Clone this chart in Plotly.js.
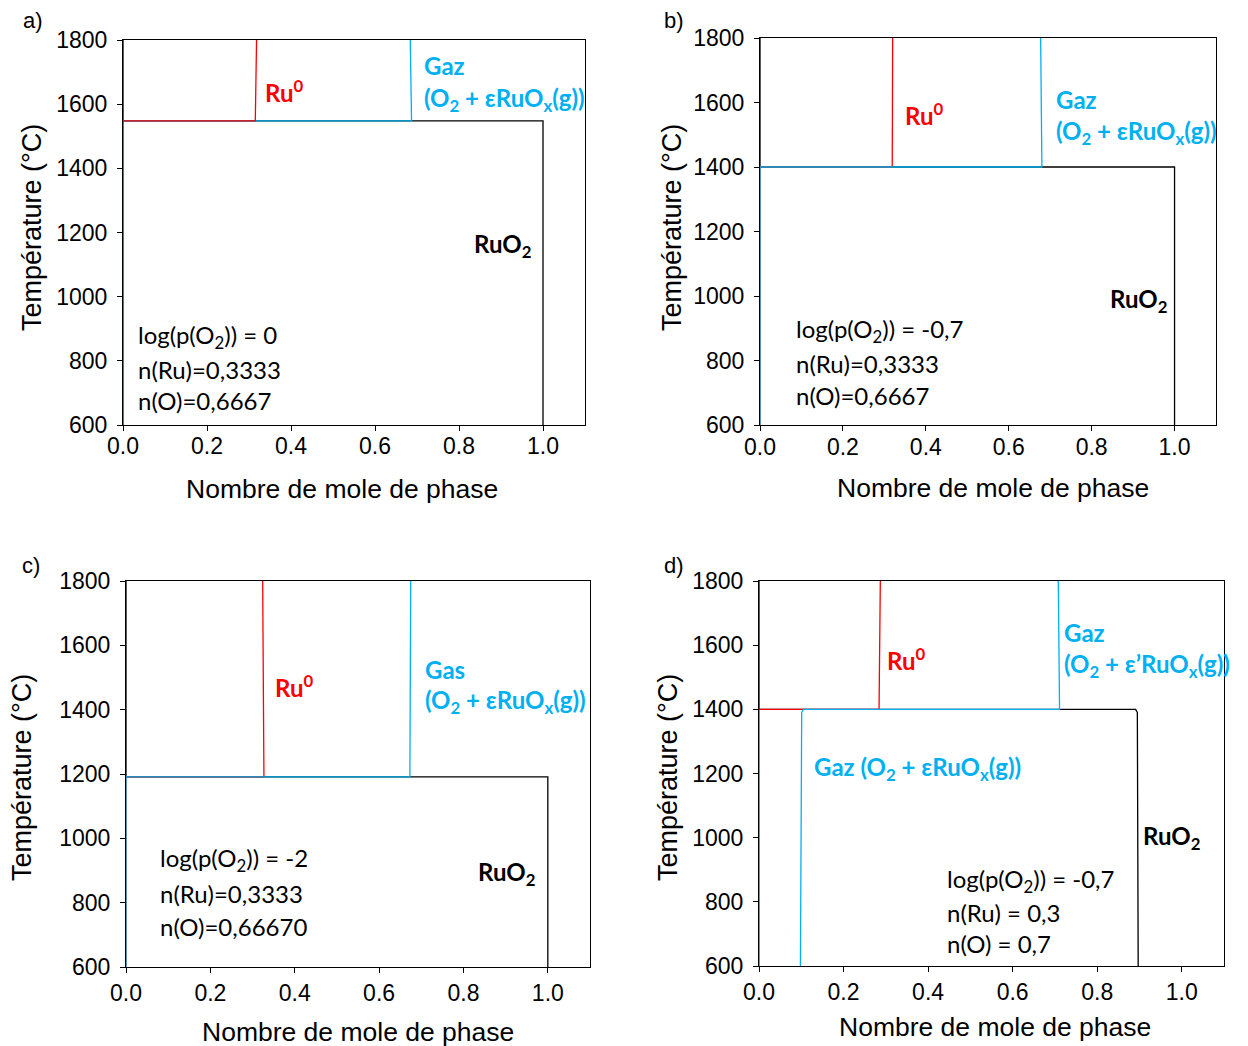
<!DOCTYPE html>
<html>
<head>
<meta charset="utf-8">
<script src="https://cdn.plot.ly/plotly-3.0.1.min.js"></script>
<style>html,body{margin:0;padding:0;background:#fff;}#chart{width:1248px;height:1046px;}</style>
</head>
<body>
<div id="chart"></div>
<script>
// ---- data: phase amounts (mol) vs temperature (°C) ----
// panel a) log(pO2)=0
const T_a     = [600, 1548, 1548, 1800];
const ru_a    = [0, 0, 0.315, 0.318];
const gas_a   = [0, 0, 0.687, 0.684];
const ruo2_a  = [1.0, 1.0, 0, 0];
// panel b) log(pO2)=-0.7
const T_b     = [600, 1400, 1400, 1800];
const ru_b    = [0, 0, 0.319, 0.320];
const gas_b   = [0, 0, 0.680, 0.677];
const ruo2_b  = [1.0, 1.0, 0, 0];
// panel c) log(pO2)=-2
const T_c     = [600, 1191, 1191, 1800];
const ru_c    = [0, 0, 0.327, 0.324];
const gas_c   = [0, 0, 0.673, 0.675];
const ruo2_c  = [1.0, 1.0, 0, 0];
// panel d) log(pO2)=-0.7, n(Ru)=0.3
const T_d_ru   = [600, 1400, 1400, 1800];
const ru_d     = [0, 0, 0.284, 0.287];
const T_d_gas  = [600, 1390, 1400, 1400, 1800];
const gas_d    = [0.098, 0.101, 0.105, 0.711, 0.708];
const T_d_ox   = [600, 1390, 1400, 1400, 1800];
const ruo2_d   = [0.897, 0.895, 0.891, 0, 0];

const xTicks = [0, 0.2, 0.4, 0.6, 0.8, 1.0];
const yTicks = [600, 800, 1000, 1200, 1400, 1600, 1800];
const panelLabels = ['a)', 'b)', 'c)', 'd)'];
const xTitle = 'Nombre de mole de phase';
const yTitle = 'Température (°C)';

const RED = '#FF0000', BLUE = '#00B0F0', BLACK = '#000000';
const W = 1248, H = 1046;
const xd = (a, b) => [a / W, b / W];
const yd = (top, bot) => [1 - bot / H, 1 - top / H];

function line(x, y, color, ax) {
  return {x: x, y: y, mode: 'lines', type: 'scatter', xaxis: 'x' + ax, yaxis: 'y' + ax,
          line: {color: color, width: 1.3}, hoverinfo: 'skip', showlegend: false};
}
const traces = [
  line(ruo2_a, T_a, BLACK, ''), line(gas_a, T_a, BLUE, ''), line(ru_a, T_a, RED, ''),
  line(ruo2_b, T_b, BLACK, '2'), line(ru_b, T_b, RED, '2'), line(gas_b, T_b, BLUE, '2'),
  line(ruo2_c, T_c, BLACK, '3'), line(ru_c, T_c, RED, '3'), line(gas_c, T_c, BLUE, '3'),
  line(ruo2_d, T_d_ox, BLACK, '4'), line(ru_d, T_d_ru, RED, '4'), line(gas_d, T_d_gas, BLUE, '4')
];

const tickFont = {family: 'Liberation Sans, Arial, sans-serif', size: 23, color: '#000'};
function xax(dom, anchor, standoff) {
  return {domain: dom, anchor: anchor, range: [0, 1.1], tickvals: xTicks, tickformat: '.1f',
          ticks: 'outside', ticklen: 5, tickcolor: '#000', showline: true, linecolor: '#000', linewidth: 1,
          mirror: true, showgrid: false, zeroline: false, tickfont: tickFont, ticklabelstandoff: standoff,
          fixedrange: true};
}
function yax(dom, anchor) {
  return {domain: dom, anchor: anchor, range: [600, 1800], tickvals: yTicks,
          ticks: 'outside', ticklen: 5, tickcolor: '#000', showline: true, linecolor: '#000', linewidth: 1,
          mirror: true, showgrid: false, zeroline: false, tickfont: tickFont, ticklabelstandoff: 5, fixedrange: true};
}

const lf = 'Lato, Calibri, sans-serif';
const FS = 24;
function t(ax, x, y, text, color, bold, xanchor) {
  return {xref: 'x' + ax, yref: 'y' + ax, x: x, y: y, text: bold ? '<b>' + text + '</b>' : text,
          showarrow: false, xanchor: xanchor || 'left', yanchor: 'middle',
          font: {family: lf, size: FS, color: color}};
}
function p(xpx, ypx, text, size, angle) {
  return {xref: 'paper', yref: 'paper', x: xpx / W, y: 1 - ypx / H, text: text, showarrow: false,
          xanchor: 'center', yanchor: 'middle', textangle: angle || 0,
          font: {family: 'Liberation Sans, Arial, sans-serif', size: size, color: '#000'}};
}
const gasExpr = '(O<sub>2</sub> + εRuO<sub>x</sub>(g))';
const annotations = [
  // panel a
  t('', 0.334, 1641, 'Ru<sup>0</sup>', RED, true),
  t('', 0.711, 1719, 'Gaz', BLUE, true),
  t('', 0.711, 1616, gasExpr, BLUE, true),
  t('', 0.975, 1161, 'RuO<sub>2</sub>', BLACK, true, 'right'),
  t('', 0.030, 877, 'log(p(O<sub>2</sub>)) = 0', BLACK, false),
  t('', 0.030, 774, 'n(Ru)=0,3333', BLACK, false),
  t('', 0.030, 675, 'n(O)=0,6667', BLACK, false),
  // panel b
  t('2', 0.346, 1564, 'Ru<sup>0</sup>', RED, true),
  t('2', 0.710, 1608, 'Gaz', BLUE, true),
  t('2', 0.710, 1508, gasExpr, BLUE, true),
  t('2', 0.986, 987, 'RuO<sub>2</sub>', BLACK, true, 'right'),
  t('2', 0.081, 894, 'log(p(O<sub>2</sub>)) = -0,7', BLACK, false),
  t('2', 0.081, 792, 'n(Ru)=0,3333', BLACK, false),
  t('2', 0.081, 693, 'n(O)=0,6667', BLACK, false),
  // panel c
  t('3', 0.349, 1474, 'Ru<sup>0</sup>', RED, true),
  t('3', 0.705, 1526, 'Gas', BLUE, true),
  t('3', 0.705, 1424, gasExpr, BLUE, true),
  t('3', 0.975, 892, 'RuO<sub>2</sub>', BLACK, true, 'right'),
  t('3', 0.077, 933, 'log(p(O<sub>2</sub>)) = -2', BLACK, false),
  t('3', 0.077, 830, 'n(Ru)=0,3333', BLACK, false),
  t('3', 0.077, 727, 'n(O)=0,66670', BLACK, false),
  // panel d
  t('4', 0.298, 1557, 'Ru<sup>0</sup>', RED, true),
  t('4', 0.716, 1638, 'Gaz', BLUE, true),
  t('4', 0.716, 1538, '(O<sub>2</sub> + ε’RuO<sub>x</sub>(g))', BLUE, true),
  t('4', 0.126, 1217, 'Gaz ' + gasExpr, BLUE, true),
  t('4', 1.048, 999, 'RuO<sub>2</sub>', BLACK, true, 'right'),
  t('4', 0.440, 868, 'log(p(O<sub>2</sub>)) = -0,7', BLACK, false),
  t('4', 0.440, 768, 'n(Ru) = 0,3', BLACK, false),
  t('4', 0.440, 669, 'n(O) = 0,7', BLACK, false),
  // panel labels
  p(33, 20, panelLabels[0], 22), p(674, 20, panelLabels[1], 22),
  p(31, 565, panelLabels[2], 22), p(674, 565, panelLabels[3], 22),
  // axis titles
  p(342, 489, xTitle, 26.5), p(993, 488, xTitle, 26.5), p(358, 1032, xTitle, 26.5), p(995, 1027, xTitle, 26.5),
  p(32, 228, yTitle, 27, -90), p(672, 228, yTitle, 27, -90), p(22, 778, yTitle, 27, -90), p(668, 778, yTitle, 27, -90)
];

const layout = {
  width: W, height: H, margin: {l: 0, r: 0, t: 0, b: 0},
  paper_bgcolor: '#fff', plot_bgcolor: '#fff', showlegend: false,
  xaxis: xax(xd(123, 585), 'y', -5), yaxis: yax(yd(40, 425), 'x'),
  xaxis2: xax(xd(760, 1216), 'y2', -4), yaxis2: yax(yd(38, 425), 'x2'),
  xaxis3: xax(xd(126, 590), 'y3', 0), yaxis3: yax(yd(581, 967), 'x3'),
  xaxis4: xax(xd(759, 1224), 'y4', 0), yaxis4: yax(yd(581, 966), 'x4'),
  annotations: annotations
};
Plotly.newPlot('chart', traces, layout, {displayModeBar: false, staticPlot: true});
</script>
</body>
</html>
